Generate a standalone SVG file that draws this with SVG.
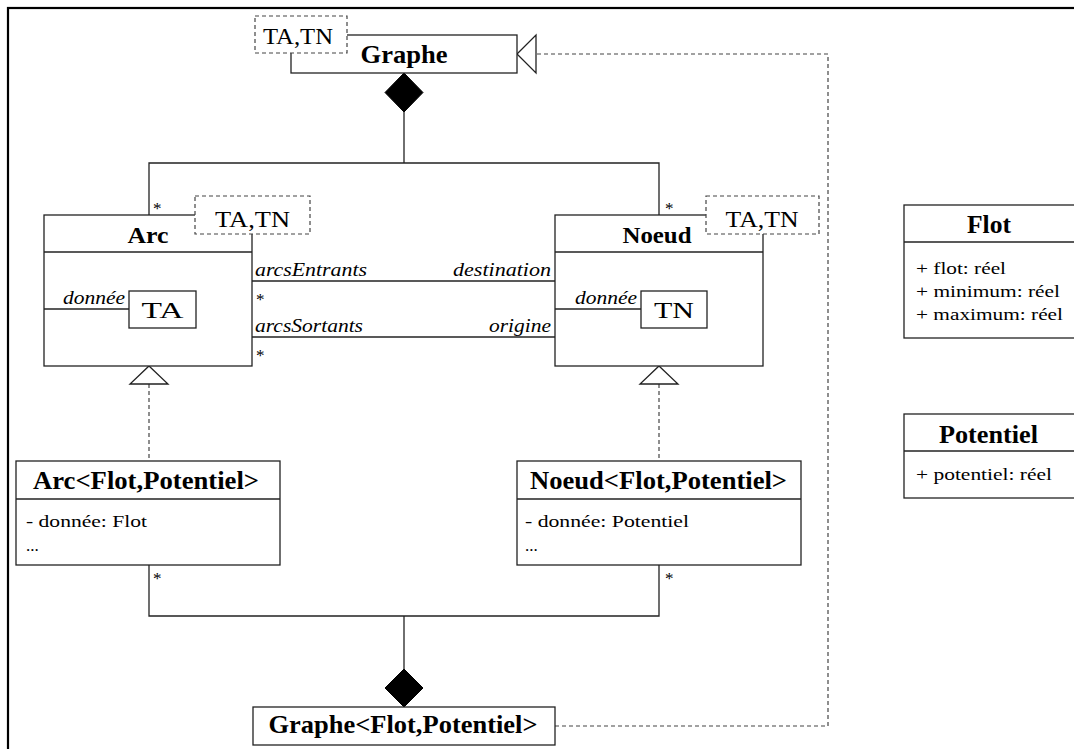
<svg xmlns="http://www.w3.org/2000/svg" width="1074" height="749" viewBox="0 0 1074 749">
<style>
.box{fill:#fff;stroke:#222;stroke-width:1.3}
.tpl{fill:#fff;stroke:#444;stroke-width:1.2;stroke-dasharray:4 3}
.ln{fill:none;stroke:#222;stroke-width:1.3}
.dash{fill:none;stroke:#444;stroke-width:1.2;stroke-dasharray:4 3}
.dia{fill:#000;stroke:#000;stroke-width:1}
.tri{fill:#fff;stroke:#222;stroke-width:1.3}
text{font-family:"Liberation Serif","Times New Roman",Times,serif;fill:#000}
.h{font-weight:bold;font-size:23px}
.hb{font-weight:bold;font-size:25px}
.t{font-size:23px}
.m{font-size:17px}
.i{font-size:18px;font-style:italic}
.s{font-size:17px}
</style>
<rect x="8" y="8" width="1080" height="760" fill="none" stroke="#000" stroke-width="2.2"/>
<g id="connectors">
<polyline class="ln" points="404,112 404,163"/>
<polyline class="ln" points="149,215 149,163 659,163 659,215"/>
<polygon class="dia" points="404,73 423,92.5 404,112 385,92.5"/>
<line class="ln" x1="252" y1="281" x2="555" y2="281"/>
<line class="ln" x1="252" y1="337" x2="555" y2="337"/>
<polyline class="dash" points="149,384 149,461"/>
<polygon class="tri" points="149,366 168,384 130,384"/>
<polyline class="dash" points="659,384 659,461"/>
<polygon class="tri" points="659,366 678,384 640,384"/>
<polyline class="ln" points="149,565 149,616 659,616 659,565"/>
<polyline class="ln" points="404,616 404,669"/>
<polygon class="dia" points="404,669 423,688 404,707 385,688"/>
<polyline class="dash" points="555,726 828,726 828,54 536,54"/>
<polygon class="tri" points="517,54 536,35 536,73"/>
<text class="s" x="153" y="214">*</text>
<text class="s" x="665" y="214">*</text>
<text class="i" x="255" y="276" textLength="112" lengthAdjust="spacingAndGlyphs">arcsEntrants</text>
<text class="i" x="551" y="276" text-anchor="end" textLength="98" lengthAdjust="spacingAndGlyphs">destination</text>
<text class="s" x="256" y="305">*</text>
<text class="i" x="255" y="332" textLength="108" lengthAdjust="spacingAndGlyphs">arcsSortants</text>
<text class="i" x="551" y="332" text-anchor="end" textLength="62" lengthAdjust="spacingAndGlyphs">origine</text>
<text class="s" x="256" y="361">*</text>
<text class="s" x="153" y="584">*</text>
<text class="s" x="665" y="584">*</text>
</g>
<g id="graphe">
<rect class="box" x="291" y="35" width="226" height="38"/>
<text class="hb" x="404" y="63" text-anchor="middle" textLength="87" lengthAdjust="spacingAndGlyphs">Graphe</text>
<rect class="tpl" x="255" y="16" width="92" height="37"/>
<text class="t" x="298" y="44" text-anchor="middle" textLength="70" lengthAdjust="spacingAndGlyphs">TA,TN</text>
</g>
<g id="arc">
<rect class="box" x="44" y="215" width="208" height="151"/>
<line class="ln" x1="44" y1="252" x2="252" y2="252"/>
<text class="h" x="148" y="243" text-anchor="middle" textLength="41" lengthAdjust="spacingAndGlyphs">Arc</text>
<rect class="tpl" x="195" y="196" width="115" height="38"/>
<text class="t" x="252.5" y="227" text-anchor="middle" textLength="75" lengthAdjust="spacingAndGlyphs">TA,TN</text>
<line class="ln" x1="44" y1="309" x2="129" y2="309"/>
<text class="i" x="125" y="304" text-anchor="end" textLength="62" lengthAdjust="spacingAndGlyphs">donnée</text>
<rect class="box" x="129" y="291" width="67" height="37"/>
<text class="t" x="162.5" y="318" text-anchor="middle" textLength="42" lengthAdjust="spacingAndGlyphs">TA</text>
</g>
<g id="noeud">
<rect class="box" x="555" y="215" width="208" height="151"/>
<line class="ln" x1="555" y1="252" x2="763" y2="252"/>
<text class="h" x="657" y="243" text-anchor="middle" textLength="69" lengthAdjust="spacingAndGlyphs">Noeud</text>
<rect class="tpl" x="706" y="196" width="113" height="38"/>
<text class="t" x="762" y="227" text-anchor="middle" textLength="73" lengthAdjust="spacingAndGlyphs">TA,TN</text>
<line class="ln" x1="555" y1="309" x2="641" y2="309"/>
<text class="i" x="637" y="304" text-anchor="end" textLength="62" lengthAdjust="spacingAndGlyphs">donnée</text>
<rect class="box" x="641" y="291" width="66" height="37"/>
<text class="t" x="674" y="318" text-anchor="middle" textLength="40" lengthAdjust="spacingAndGlyphs">TN</text>
</g>
<g id="arc-flot-potentiel">
<rect class="box" x="16" y="461" width="264" height="104"/>
<line class="ln" x1="16" y1="499" x2="280" y2="499"/>
<text class="hb" x="146" y="489" text-anchor="middle" textLength="226" lengthAdjust="spacingAndGlyphs">Arc&lt;Flot,Potentiel&gt;</text>
<text class="m" x="26" y="527" textLength="121" lengthAdjust="spacingAndGlyphs">- donnée: Flot</text>
<text class="m" x="26" y="551">...</text>
</g>
<g id="noeud-flot-potentiel">
<rect class="box" x="517" y="461" width="284" height="104"/>
<line class="ln" x1="517" y1="499" x2="801" y2="499"/>
<text class="hb" x="658.5" y="489" text-anchor="middle" textLength="257" lengthAdjust="spacingAndGlyphs">Noeud&lt;Flot,Potentiel&gt;</text>
<text class="m" x="525" y="527" textLength="164" lengthAdjust="spacingAndGlyphs">- donnée: Potentiel</text>
<text class="m" x="525" y="551">...</text>
</g>
<g id="graphe-flot-potentiel">
<rect class="box" x="253" y="707" width="302" height="38"/>
<text class="hb" x="403" y="733" text-anchor="middle" textLength="269" lengthAdjust="spacingAndGlyphs">Graphe&lt;Flot,Potentiel&gt;</text>
</g>
<g id="flot">
<rect class="box" x="904" y="205" width="172" height="133"/>
<line class="ln" x1="904" y1="242" x2="1076" y2="242"/>
<text class="hb" x="989" y="233" text-anchor="middle" textLength="44" lengthAdjust="spacingAndGlyphs">Flot</text>
<text class="m" x="916" y="274" textLength="90" lengthAdjust="spacingAndGlyphs">+ flot: réel</text>
<text class="m" x="916" y="297" textLength="144" lengthAdjust="spacingAndGlyphs">+ minimum: réel</text>
<text class="m" x="916" y="320" textLength="147" lengthAdjust="spacingAndGlyphs">+ maximum: réel</text>
</g>
<g id="potentiel">
<rect class="box" x="904" y="414" width="172" height="84"/>
<line class="ln" x1="904" y1="451" x2="1076" y2="451"/>
<text class="hb" x="988.5" y="443" text-anchor="middle" textLength="99" lengthAdjust="spacingAndGlyphs">Potentiel</text>
<text class="m" x="916" y="480" textLength="136" lengthAdjust="spacingAndGlyphs">+ potentiel: réel</text>
</g>
</svg>
